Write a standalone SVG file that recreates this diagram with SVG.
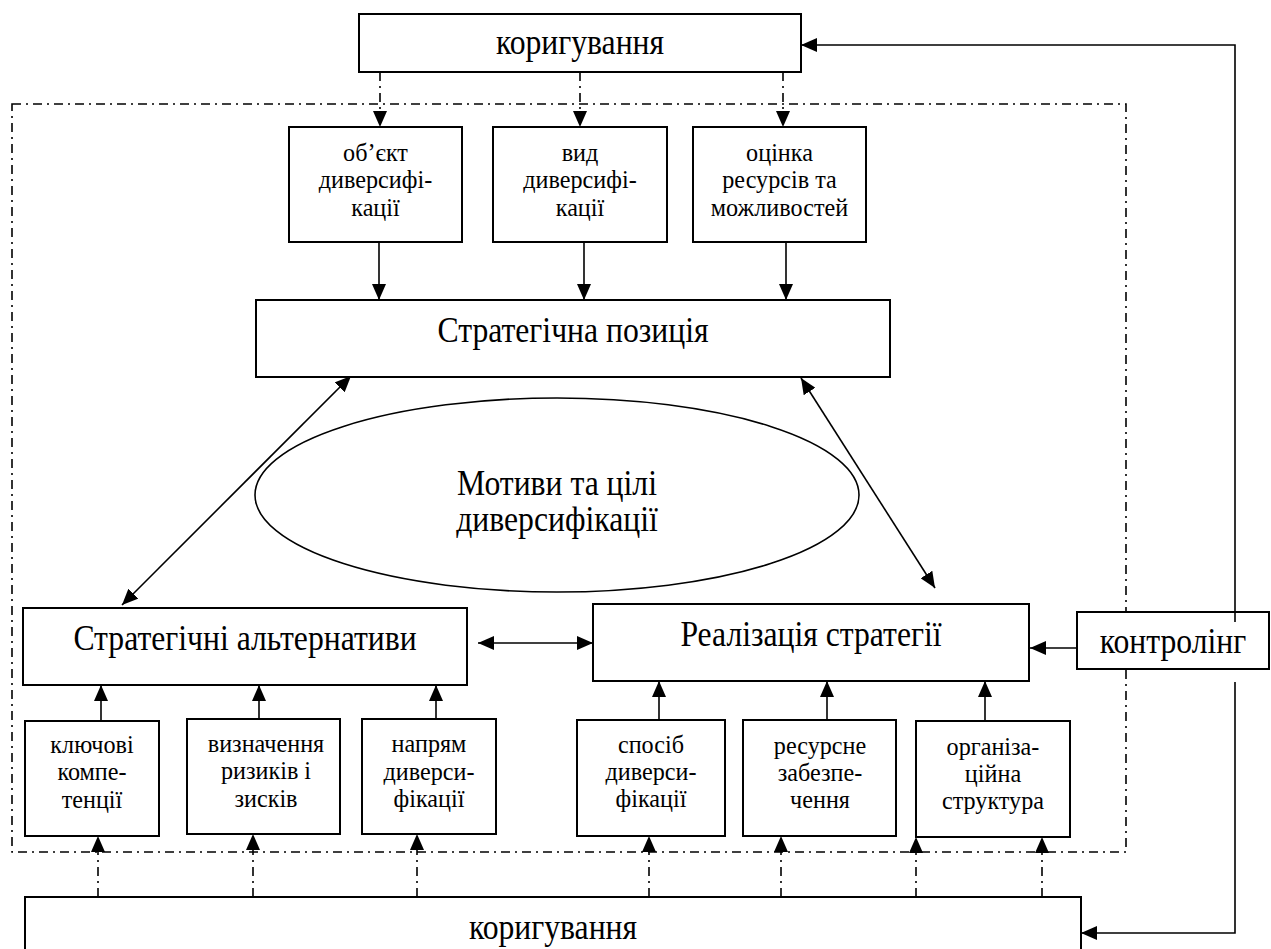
<svg xmlns="http://www.w3.org/2000/svg" width="1271" height="949" viewBox="0 0 1271 949">
<defs>
<style>
.box{fill:#fff;stroke:#000;stroke-width:2}
.ln{fill:none;stroke:#000;stroke-width:1.6}
.dd{fill:none;stroke:#000;stroke-width:1.6;stroke-dasharray:9 5 2 5}
.big{font-size:36px;text-anchor:middle;fill:#000}
.sm{font-size:26px;text-anchor:middle;fill:#000}
</style>
<marker id="ah" viewBox="0 0 16 14" refX="16" refY="7" markerWidth="16" markerHeight="14" markerUnits="userSpaceOnUse" orient="auto-start-reverse">
<path d="M0,0 L16,7 L0,14 z" fill="#000"/>
</marker>
</defs>
<rect width="1271" height="949" fill="#fff"/>

<rect id="frame" x="12" y="104" width="1114" height="748" class="dd"/>

<g id="connectors">
<line x1="380" y1="72" x2="380" y2="127" class="dd" marker-end="url(#ah)"/>
<line x1="580" y1="72" x2="580" y2="127" class="dd" marker-end="url(#ah)"/>
<line x1="783" y1="72" x2="783" y2="127" class="dd" marker-end="url(#ah)"/>
<line x1="379" y1="242" x2="379" y2="300" class="ln" marker-end="url(#ah)"/>
<line x1="584" y1="242" x2="584" y2="300" class="ln" marker-end="url(#ah)"/>
<line x1="786" y1="242" x2="786" y2="300" class="ln" marker-end="url(#ah)"/>
<line x1="351" y1="376" x2="122" y2="605" class="ln" marker-start="url(#ah)" marker-end="url(#ah)"/>
<line x1="801" y1="378" x2="935" y2="588" class="ln" marker-start="url(#ah)" marker-end="url(#ah)"/>
<line x1="478" y1="643" x2="593" y2="643" class="ln" marker-start="url(#ah)" marker-end="url(#ah)"/>
<line x1="101" y1="721" x2="101" y2="685" class="ln" marker-end="url(#ah)"/>
<line x1="259" y1="719" x2="259" y2="685" class="ln" marker-end="url(#ah)"/>
<line x1="436" y1="719" x2="436" y2="685" class="ln" marker-end="url(#ah)"/>
<line x1="659" y1="720" x2="659" y2="681" class="ln" marker-end="url(#ah)"/>
<line x1="827" y1="720" x2="827" y2="681" class="ln" marker-end="url(#ah)"/>
<line x1="985" y1="721" x2="985" y2="681" class="ln" marker-end="url(#ah)"/>
<line x1="98" y1="897" x2="98" y2="836" class="dd" marker-end="url(#ah)"/>
<line x1="253" y1="897" x2="253" y2="834" class="dd" marker-end="url(#ah)"/>
<line x1="417" y1="897" x2="417" y2="834" class="dd" marker-end="url(#ah)"/>
<line x1="649" y1="897" x2="649" y2="836" class="dd" marker-end="url(#ah)"/>
<line x1="781" y1="897" x2="781" y2="836" class="dd" marker-end="url(#ah)"/>
<line x1="916" y1="897" x2="916" y2="837" class="dd" marker-end="url(#ah)"/>
<line x1="1042" y1="897" x2="1042" y2="837" class="dd" marker-end="url(#ah)"/>
</g>

<g font-family="Liberation Serif, Tinos, Times New Roman, DejaVu Serif, serif">
<g id="n-top-correction">
<rect x="359" y="14" width="442" height="58" class="box"/>
<text class="big" transform="translate(580,54) scale(0.88,1)">коригування</text>
</g>

<g id="n-object">
<rect x="289" y="127" width="173" height="115" class="box"/>
<text class="sm" transform="translate(375.5,0) scale(0.93,1)"><tspan x="0" y="161">об’єкт</tspan><tspan x="0" y="188">диверсифі-</tspan><tspan x="0" y="216">кації</tspan></text>
</g>
<g id="n-kind">
<rect x="493" y="127" width="174" height="115" class="box"/>
<text class="sm" transform="translate(580,0) scale(0.93,1)"><tspan x="0" y="161">вид</tspan><tspan x="0" y="188">диверсифі-</tspan><tspan x="0" y="216">кації</tspan></text>
</g>
<g id="n-resources">
<rect x="693" y="127" width="173" height="115" class="box"/>
<text class="sm" transform="translate(779.5,0) scale(0.93,1)"><tspan x="0" y="161">оцінка</tspan><tspan x="0" y="188">ресурсів та</tspan><tspan x="0" y="216">можливостей</tspan></text>
</g>

<g id="n-position">
<rect x="256" y="300" width="634" height="77" class="box"/>
<text class="big" transform="translate(573,342) scale(0.88,1)">Стратегічна позиція</text>
</g>

<g id="n-motives">
<ellipse cx="557" cy="495" rx="302" ry="97" fill="#fff" stroke="#000" stroke-width="1.6"/>
<text class="big" transform="translate(557,0) scale(0.88,1)"><tspan x="0" y="495">Мотиви та цілі</tspan><tspan x="0" y="531">диверсифікації</tspan></text>
</g>

<g id="n-alternatives">
<rect x="23" y="608" width="444" height="77" class="box"/>
<text class="big" transform="translate(245,650) scale(0.88,1)">Стратегічні альтернативи</text>
</g>

<g id="n-realization">
<rect x="593" y="604" width="436" height="77" class="box"/>
<text class="big" transform="translate(811,646) scale(0.88,1)">Реалізація стратегії</text>
</g>

<g id="n-competences">
<rect x="25" y="721" width="134" height="115" class="box"/>
<text class="sm" transform="translate(92,0) scale(0.93,1)"><tspan x="0" y="753">ключові</tspan><tspan x="0" y="780">компе-</tspan><tspan x="0" y="808">тенції</tspan></text>
</g>
<g id="n-risks">
<rect x="187" y="719" width="153" height="115" class="box"/>
<text class="sm" transform="translate(266,0) scale(0.93,1)"><tspan x="0" y="752">визначення</tspan><tspan x="0" y="779">ризиків і</tspan><tspan x="0" y="807">зисків</tspan></text>
</g>
<g id="n-direction">
<rect x="362" y="719" width="134" height="115" class="box"/>
<text class="sm" transform="translate(429,0) scale(0.93,1)"><tspan x="0" y="752">напрям</tspan><tspan x="0" y="780">диверси-</tspan><tspan x="0" y="807">фікації</tspan></text>
</g>
<g id="n-method">
<rect x="577" y="720" width="148" height="116" class="box"/>
<text class="sm" transform="translate(651,0) scale(0.93,1)"><tspan x="0" y="753">спосіб</tspan><tspan x="0" y="780">диверси-</tspan><tspan x="0" y="807">фікації</tspan></text>
</g>
<g id="n-resource-supply">
<rect x="743" y="720" width="153" height="116" class="box"/>
<text class="sm" transform="translate(820,0) scale(0.93,1)"><tspan x="0" y="754">ресурсне</tspan><tspan x="0" y="781">забезпе-</tspan><tspan x="0" y="808">чення</tspan></text>
</g>
<g id="n-org-structure">
<rect x="916" y="721" width="154" height="116" class="box"/>
<text class="sm" transform="translate(993,0) scale(0.93,1)"><tspan x="0" y="755">організа-</tspan><tspan x="0" y="782">ційна</tspan><tspan x="0" y="809">структура</tspan></text>
</g>

<g id="n-bottom-correction">
<rect x="25" y="897" width="1056" height="70" class="box"/>
<text class="big" transform="translate(553,939) scale(0.88,1)">коригування</text>
</g>

<g id="n-controlling">
<rect x="1077" y="612" width="192" height="57" class="box"/>
<text class="big" transform="translate(1173,653) scale(0.88,1)">контролінг</text>
</g>
</g>

<g id="connectors-controlling">
<polyline points="1235,622 1235,45 801,45" class="ln" stroke-width="2" marker-end="url(#ah)"/>
<polyline points="1235,682 1235,933 1081,933" class="ln" stroke-width="2" marker-end="url(#ah)"/>
<line x1="1077" y1="648" x2="1030" y2="648" class="ln" stroke-width="2" marker-end="url(#ah)"/>
</g>
</svg>
